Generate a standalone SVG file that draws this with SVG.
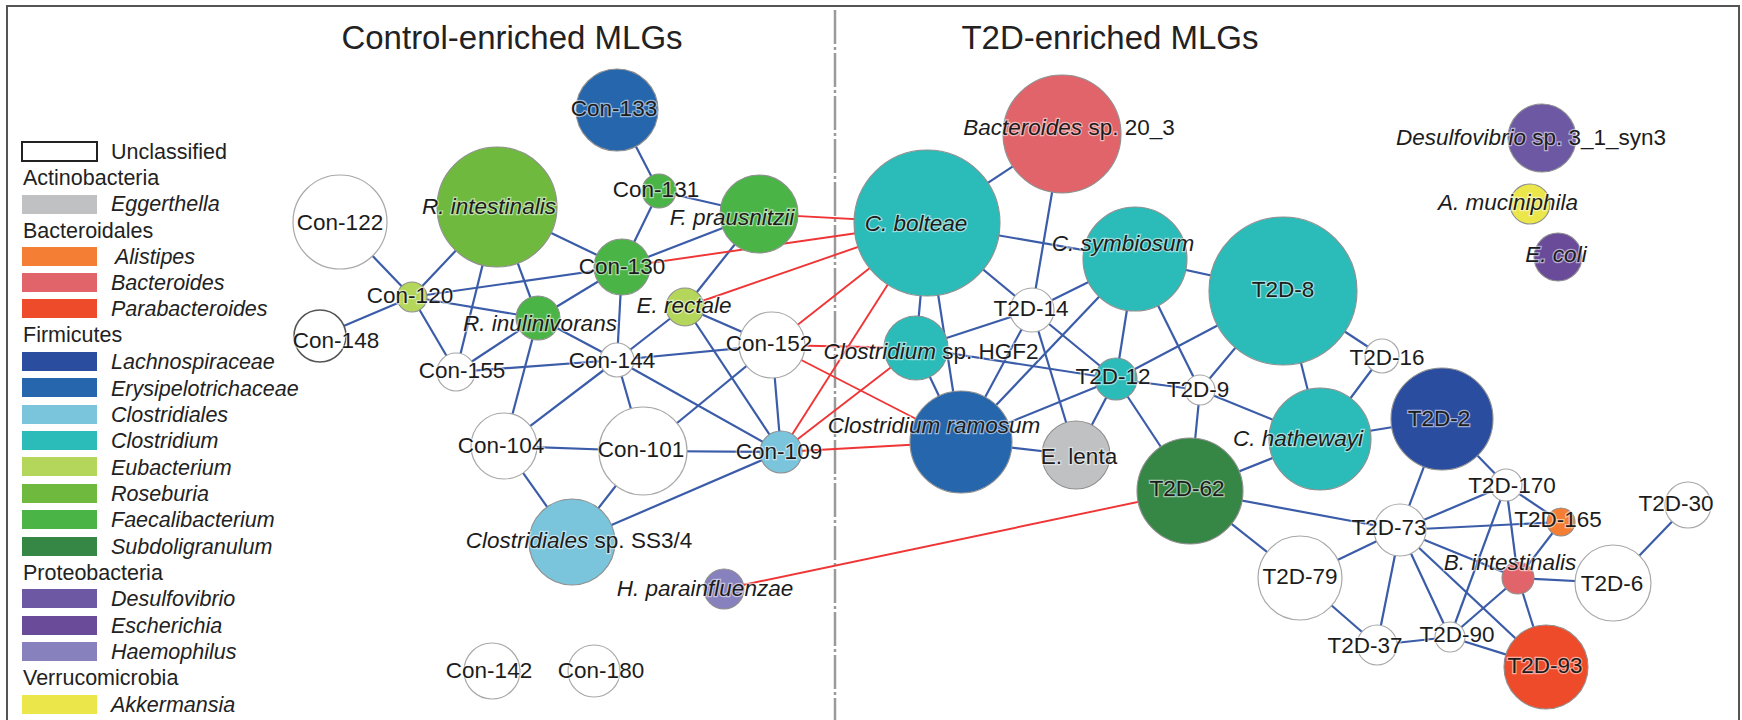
<svg xmlns="http://www.w3.org/2000/svg" width="1742" height="720" viewBox="0 0 1742 720">
  <style>
    .frame { fill: none; stroke: #555; stroke-width: 2; }
    .divider { stroke: #9a9a9a; stroke-width: 2.5; stroke-dasharray: 34 3 3 3; }
    .title { font-family: "Liberation Sans", Arial, sans-serif; font-size: 33px; fill: #222; text-anchor: middle; }
    .lg { font-family: "Liberation Sans", Arial, sans-serif; font-size: 21.5px; fill: #222; }
    .e { stroke: #3b5ca8; stroke-width: 2.2; }
    .r { stroke: #ef3535; stroke-width: 1.9; }
    .n { stroke: #8f8f8f; stroke-width: 1.1; }
    .w { fill: #fff; stroke: #a8a8a8; stroke-width: 1.2; }
    .t { font-family: "Liberation Sans", Arial, sans-serif; font-size: 22.5px; fill: #1c1c1c; text-anchor: middle; stroke: #fff; stroke-width: 2.4; stroke-opacity: 0.55; paint-order: stroke; }
    .i { font-style: italic; }
  </style>

  <!-- outer frame and panel divider -->
  <rect class="frame" x="7" y="6" width="1732" height="730"/>
  <line class="divider" x1="835" y1="10" x2="835" y2="720"/>

  <text class="title" x="512" y="49">Control-enriched MLGs</text>
  <text class="title" x="1110" y="49">T2D-enriched MLGs</text>

  <!-- legend -->
  <g id="legend">
    <rect x="22" y="142" width="75" height="19" fill="#fff" stroke="#222" stroke-width="2"/>
    <text class="lg" x="111" y="159">Unclassified</text>
    <text class="lg" x="23" y="185">Actinobacteria</text>
    <rect x="22" y="195" width="75" height="19" fill="#c0c1c3"/>
    <text class="lg i" x="111" y="211">Eggerthella</text>
    <text class="lg" x="23" y="238">Bacteroidales</text>
    <rect x="22" y="247" width="75" height="19" fill="#f47f34"/>
    <text class="lg i" x="115" y="264">Alistipes</text>
    <rect x="22" y="273" width="75" height="19" fill="#e0646a"/>
    <text class="lg i" x="111" y="290">Bacteroides</text>
    <rect x="22" y="299" width="75" height="19" fill="#ee4b2b"/>
    <text class="lg i" x="111" y="316">Parabacteroides</text>
    <text class="lg" x="23" y="342">Firmicutes</text>
    <rect x="22" y="352" width="75" height="19" fill="#2b4da0"/>
    <text class="lg i" x="111" y="369">Lachnospiraceae</text>
    <rect x="22" y="378" width="75" height="19" fill="#2566ad"/>
    <text class="lg i" x="111" y="396">Erysipelotrichaceae</text>
    <rect x="22" y="405" width="75" height="19" fill="#7ac4dc"/>
    <text class="lg i" x="111" y="422">Clostridiales</text>
    <rect x="22" y="431" width="75" height="19" fill="#2bbbb8"/>
    <text class="lg i" x="111" y="448">Clostridium</text>
    <rect x="22" y="457" width="75" height="19" fill="#b3d65b"/>
    <text class="lg i" x="111" y="475">Eubacterium</text>
    <rect x="22" y="484" width="75" height="19" fill="#6fba3e"/>
    <text class="lg i" x="111" y="501">Roseburia</text>
    <rect x="22" y="510" width="75" height="19" fill="#4bb447"/>
    <text class="lg i" x="111" y="527">Faecalibacterium</text>
    <rect x="22" y="537" width="75" height="19" fill="#368645"/>
    <text class="lg i" x="111" y="554">Subdoligranulum</text>
    <text class="lg" x="23" y="580">Proteobacteria</text>
    <rect x="22" y="589" width="75" height="19" fill="#6c58a3"/>
    <text class="lg i" x="111" y="606">Desulfovibrio</text>
    <rect x="22" y="616" width="75" height="19" fill="#6a4b9a"/>
    <text class="lg i" x="111" y="633">Escherichia</text>
    <rect x="22" y="642" width="75" height="19" fill="#8781bd"/>
    <text class="lg i" x="111" y="659">Haemophilus</text>
    <text class="lg" x="23" y="685">Verrucomicrobia</text>
    <rect x="22" y="695" width="75" height="19" fill="#ebe64a"/>
    <text class="lg i" x="111" y="712">Akkermansia</text>
  </g>

  <!-- co-abundance connectors: blue = positive, red = negative -->
  <g id="connectors">
    <line class="e" x1="617" y1="110" x2="659" y2="191"/>
    <line class="e" x1="659" y1="191" x2="622" y2="267"/>
    <line class="e" x1="659" y1="191" x2="759" y2="214"/>
    <line class="e" x1="497" y1="207" x2="622" y2="267"/>
    <line class="e" x1="497" y1="207" x2="412" y2="297"/>
    <line class="e" x1="497" y1="207" x2="456" y2="372"/>
    <line class="e" x1="497" y1="207" x2="538" y2="318"/>
    <line class="e" x1="340" y1="222" x2="412" y2="297"/>
    <line class="e" x1="320" y1="336" x2="412" y2="297"/>
    <line class="e" x1="412" y1="297" x2="622" y2="267"/>
    <line class="e" x1="412" y1="297" x2="538" y2="318"/>
    <line class="e" x1="412" y1="297" x2="456" y2="372"/>
    <line class="e" x1="538" y1="318" x2="456" y2="372"/>
    <line class="e" x1="538" y1="318" x2="504" y2="446"/>
    <line class="e" x1="538" y1="318" x2="622" y2="267"/>
    <line class="e" x1="538" y1="318" x2="617" y2="360"/>
    <line class="e" x1="456" y1="372" x2="617" y2="360"/>
    <line class="e" x1="622" y1="267" x2="617" y2="360"/>
    <line class="e" x1="622" y1="267" x2="759" y2="214"/>
    <line class="e" x1="759" y1="214" x2="685" y2="307"/>
    <line class="e" x1="685" y1="307" x2="617" y2="360"/>
    <line class="e" x1="685" y1="307" x2="772" y2="345"/>
    <line class="e" x1="685" y1="307" x2="781" y2="452"/>
    <line class="e" x1="617" y1="360" x2="772" y2="345"/>
    <line class="e" x1="617" y1="360" x2="781" y2="452"/>
    <line class="e" x1="617" y1="360" x2="504" y2="446"/>
    <line class="e" x1="617" y1="360" x2="643" y2="451"/>
    <line class="e" x1="772" y1="345" x2="643" y2="451"/>
    <line class="e" x1="772" y1="345" x2="781" y2="452"/>
    <line class="e" x1="504" y1="446" x2="643" y2="451"/>
    <line class="e" x1="643" y1="451" x2="781" y2="452"/>
    <line class="e" x1="504" y1="446" x2="572" y2="542"/>
    <line class="e" x1="643" y1="451" x2="572" y2="542"/>
    <line class="e" x1="781" y1="452" x2="572" y2="542"/>

    <line class="e" x1="1062" y1="134" x2="927" y2="223"/>
    <line class="e" x1="1062" y1="134" x2="1032" y2="310"/>
    <line class="e" x1="927" y1="223" x2="1135" y2="259"/>
    <line class="e" x1="927" y1="223" x2="1032" y2="310"/>
    <line class="e" x1="927" y1="223" x2="916" y2="348"/>
    <line class="e" x1="927" y1="223" x2="961" y2="442"/>
    <line class="e" x1="1032" y1="310" x2="916" y2="348"/>
    <line class="e" x1="1032" y1="310" x2="1135" y2="259"/>
    <line class="e" x1="1032" y1="310" x2="1116" y2="379"/>
    <line class="e" x1="1032" y1="310" x2="961" y2="442"/>
    <line class="e" x1="1032" y1="310" x2="1076" y2="455"/>
    <line class="e" x1="1135" y1="259" x2="1283" y2="291"/>
    <line class="e" x1="1135" y1="259" x2="1116" y2="379"/>
    <line class="e" x1="1135" y1="259" x2="961" y2="442"/>
    <line class="e" x1="1135" y1="259" x2="1200" y2="390"/>
    <line class="e" x1="1283" y1="291" x2="1382" y2="356"/>
    <line class="e" x1="1283" y1="291" x2="1116" y2="379"/>
    <line class="e" x1="1283" y1="291" x2="1200" y2="390"/>
    <line class="e" x1="1283" y1="291" x2="1320" y2="439"/>
    <line class="e" x1="916" y1="348" x2="1116" y2="379"/>
    <line class="e" x1="916" y1="348" x2="961" y2="442"/>
    <line class="e" x1="961" y1="442" x2="1116" y2="379"/>
    <line class="e" x1="961" y1="442" x2="1076" y2="455"/>
    <line class="e" x1="1116" y1="379" x2="1076" y2="455"/>
    <line class="e" x1="1116" y1="379" x2="1200" y2="390"/>
    <line class="e" x1="1116" y1="379" x2="1190" y2="491"/>
    <line class="e" x1="1200" y1="390" x2="1190" y2="491"/>
    <line class="e" x1="1200" y1="390" x2="1320" y2="439"/>
    <line class="e" x1="1382" y1="356" x2="1320" y2="439"/>
    <line class="e" x1="1320" y1="439" x2="1190" y2="491"/>
    <line class="e" x1="1320" y1="439" x2="1442" y2="419"/>
    <line class="e" x1="1190" y1="491" x2="1400" y2="530"/>
    <line class="e" x1="1190" y1="491" x2="1300" y2="578"/>
    <line class="e" x1="1300" y1="578" x2="1400" y2="530"/>
    <line class="e" x1="1300" y1="578" x2="1377" y2="645"/>
    <line class="e" x1="1400" y1="530" x2="1377" y2="645"/>
    <line class="e" x1="1400" y1="530" x2="1450" y2="637"/>
    <line class="e" x1="1400" y1="530" x2="1546" y2="667"/>
    <line class="e" x1="1400" y1="530" x2="1518" y2="578"/>
    <line class="e" x1="1400" y1="530" x2="1506" y2="485"/>
    <line class="e" x1="1400" y1="530" x2="1561" y2="522"/>
    <line class="e" x1="1400" y1="530" x2="1442" y2="419"/>
    <line class="e" x1="1442" y1="419" x2="1506" y2="485"/>
    <line class="e" x1="1506" y1="485" x2="1450" y2="637"/>
    <line class="e" x1="1506" y1="485" x2="1518" y2="578"/>
    <line class="e" x1="1506" y1="485" x2="1561" y2="522"/>
    <line class="e" x1="1561" y1="522" x2="1518" y2="578"/>
    <line class="e" x1="1518" y1="578" x2="1613" y2="583"/>
    <line class="e" x1="1518" y1="578" x2="1546" y2="667"/>
    <line class="e" x1="1518" y1="578" x2="1450" y2="637"/>
    <line class="e" x1="1450" y1="637" x2="1377" y2="645"/>
    <line class="e" x1="1450" y1="637" x2="1546" y2="667"/>
    <line class="e" x1="1613" y1="583" x2="1688" y2="505"/>

    <line class="r" x1="759" y1="214" x2="927" y2="223"/>
    <line class="r" x1="622" y1="267" x2="927" y2="223"/>
    <line class="r" x1="685" y1="307" x2="927" y2="223"/>
    <line class="r" x1="772" y1="345" x2="927" y2="223"/>
    <line class="r" x1="781" y1="452" x2="927" y2="223"/>
    <line class="r" x1="781" y1="452" x2="916" y2="348"/>
    <line class="r" x1="772" y1="345" x2="916" y2="348"/>
    <line class="r" x1="772" y1="345" x2="961" y2="442"/>
    <line class="r" x1="781" y1="452" x2="961" y2="442"/>
    <line class="r" x1="724" y1="589" x2="1190" y2="491"/>
  </g>

  <!-- control-enriched nodes -->
  <g id="con-133"><circle class="n" cx="617" cy="110" r="41" fill="#2566ad"/><text class="t" x="614" y="116">Con-133</text></g>
  <g id="con-131"><circle class="n" cx="659" cy="191" r="17" fill="#4bb447"/><text class="t" x="656" y="197">Con-131</text></g>
  <g id="f-prausnitzii"><circle class="n" cx="759" cy="214" r="39" fill="#4bb447"/><text class="t i" x="732" y="225">F. prausnitzii</text></g>
  <g id="r-intestinalis"><circle class="n" cx="497" cy="207" r="60" fill="#6fba3e"/><text class="t i" x="489" y="214">R. intestinalis</text></g>
  <g id="con-122"><circle class="w" cx="340" cy="222" r="47"/><text class="t" x="340" y="230">Con-122</text></g>
  <g id="con-130"><circle class="n" cx="622" cy="267" r="28" fill="#4bb447"/><text class="t" x="622" y="274">Con-130</text></g>
  <g id="con-120"><circle class="n" cx="412" cy="297" r="15" fill="#b3d65b"/><text class="t" x="410" y="303">Con-120</text></g>
  <g id="con-148"><circle cx="320" cy="336" r="26" fill="#fff" stroke="#555" stroke-width="1.5"/><text class="t" x="336" y="348">Con-148</text></g>
  <g id="r-inulinivorans"><circle class="n" cx="538" cy="318" r="22" fill="#4bb447"/><text class="t i" x="540" y="331">R. inulinivorans</text></g>
  <g id="e-rectale"><circle class="n" cx="685" cy="307" r="19" fill="#b3d65b"/><text class="t i" x="684" y="313">E. rectale</text></g>
  <g id="con-155"><circle class="w" cx="456" cy="372" r="19"/><text class="t" x="462" y="378">Con-155</text></g>
  <g id="con-144"><circle class="w" cx="617" cy="360" r="17"/><text class="t" x="612" y="368">Con-144</text></g>
  <g id="con-152"><circle class="w" cx="772" cy="345" r="33"/><text class="t" x="769" y="351">Con-152</text></g>
  <g id="con-104"><circle class="w" cx="504" cy="446" r="33"/><text class="t" x="501" y="453">Con-104</text></g>
  <g id="con-101"><circle class="w" cx="643" cy="451" r="44"/><text class="t" x="641" y="457">Con-101</text></g>
  <g id="con-109"><circle class="n" cx="781" cy="452" r="21" fill="#7ac4dc"/><text class="t" x="779" y="459">Con-109</text></g>
  <g id="clostridiales-ss3-4"><circle class="n" cx="572" cy="542" r="43" fill="#7ac4dc"/><text class="t" x="579" y="548"><tspan class="i">Clostridiales</tspan> sp. SS3/4</text></g>
  <g id="h-parainfluenzae"><circle class="n" cx="724" cy="589" r="20" fill="#8781bd"/><text class="t i" x="705" y="596">H. parainfluenzae</text></g>
  <g id="con-142"><circle class="w" cx="492" cy="671" r="28"/><text class="t" x="489" y="678">Con-142</text></g>
  <g id="con-180"><circle class="w" cx="594" cy="671" r="26"/><text class="t" x="601" y="678">Con-180</text></g>

  <!-- T2D-enriched nodes -->
  <g id="c-bolteae"><circle class="n" cx="927" cy="223" r="73" fill="#2bbbb8"/><text class="t i" x="916" y="231">C. bolteae</text></g>
  <g id="bacteroides-20-3"><circle class="n" cx="1062" cy="134" r="59" fill="#e0646a"/><text class="t" x="1069" y="135"><tspan class="i">Bacteroides</tspan> sp. 20_3</text></g>
  <g id="c-symbiosum"><circle class="n" cx="1135" cy="259" r="52" fill="#2bbbb8"/><text class="t i" x="1123" y="251">C. symbiosum</text></g>
  <g id="t2d-8"><circle class="n" cx="1283" cy="291" r="74" fill="#2bbbb8"/><text class="t" x="1283" y="297">T2D-8</text></g>
  <g id="t2d-14"><circle class="w" cx="1032" cy="310" r="22"/><text class="t" x="1031" y="316">T2D-14</text></g>
  <g id="clostridium-hgf2"><circle class="n" cx="916" cy="348" r="32" fill="#2bbbb8"/><text class="t" x="931" y="359"><tspan class="i">Clostridium</tspan> sp. HGF2</text></g>
  <g id="t2d-12"><circle class="n" cx="1116" cy="379" r="21" fill="#2bbbb8"/><text class="t" x="1113" y="384">T2D-12</text></g>
  <g id="t2d-9"><circle class="w" cx="1200" cy="390" r="15"/><text class="t" x="1198" y="397">T2D-9</text></g>
  <g id="t2d-16"><circle class="w" cx="1382" cy="356" r="17"/><text class="t" x="1387" y="365">T2D-16</text></g>
  <g id="c-ramosum"><circle class="n" cx="961" cy="442" r="51" fill="#2566ad"/><text class="t i" x="934" y="433">Clostridium ramosum</text></g>
  <g id="e-lenta"><circle class="n" cx="1076" cy="455" r="34" fill="#c0c1c3"/><text class="t" x="1079" y="464">E. lenta</text></g>
  <g id="t2d-62"><circle class="n" cx="1190" cy="491" r="53" fill="#368645"/><text class="t" x="1187" y="496">T2D-62</text></g>
  <g id="c-hathewayi"><circle class="n" cx="1320" cy="439" r="51" fill="#2bbbb8"/><text class="t i" x="1298" y="446">C. hathewayi</text></g>
  <g id="t2d-2"><circle class="n" cx="1442" cy="419" r="51" fill="#2b4da0"/><text class="t" x="1439" y="426">T2D-2</text></g>
  <g id="t2d-170"><circle class="w" cx="1506" cy="485" r="16"/><text class="t" x="1512" y="493">T2D-170</text></g>
  <g id="t2d-73"><circle class="w" cx="1400" cy="530" r="26"/><text class="t" x="1389" y="535">T2D-73</text></g>
  <g id="t2d-165"><circle class="n" cx="1561" cy="522" r="14" fill="#f47f34"/><text class="t" x="1558" y="527">T2D-165</text></g>
  <g id="t2d-30"><circle class="w" cx="1688" cy="505" r="23"/><text class="t" x="1676" y="511">T2D-30</text></g>
  <g id="b-intestinalis"><circle class="n" cx="1518" cy="578" r="16" fill="#e0646a"/><text class="t i" x="1510" y="570">B. intestinalis</text></g>
  <g id="t2d-6"><circle class="w" cx="1613" cy="583" r="38"/><text class="t" x="1612" y="591">T2D-6</text></g>
  <g id="t2d-79"><circle class="w" cx="1300" cy="578" r="42"/><text class="t" x="1300" y="584">T2D-79</text></g>
  <g id="t2d-37"><circle class="w" cx="1377" cy="645" r="20"/><text class="t" x="1365" y="653">T2D-37</text></g>
  <g id="t2d-90"><circle class="w" cx="1450" cy="637" r="15"/><text class="t" x="1457" y="642">T2D-90</text></g>
  <g id="t2d-93"><circle class="n" cx="1546" cy="667" r="42" fill="#ee4b2b"/><text class="t" x="1545" y="673">T2D-93</text></g>
  <g id="desulfovibrio"><circle class="n" cx="1542" cy="138" r="34" fill="#6c58a3"/><text class="t" x="1531" y="145"><tspan class="i">Desulfovibrio</tspan> sp. 3_1_syn3</text></g>
  <g id="a-muciniphila"><circle class="n" cx="1530" cy="204" r="20" fill="#ebe64a"/><text class="t i" x="1508" y="210">A. muciniphila</text></g>
  <g id="e-coli"><circle class="n" cx="1558" cy="257" r="24" fill="#6a4b9a"/><text class="t i" x="1556" y="262">E. coli</text></g>
</svg>
